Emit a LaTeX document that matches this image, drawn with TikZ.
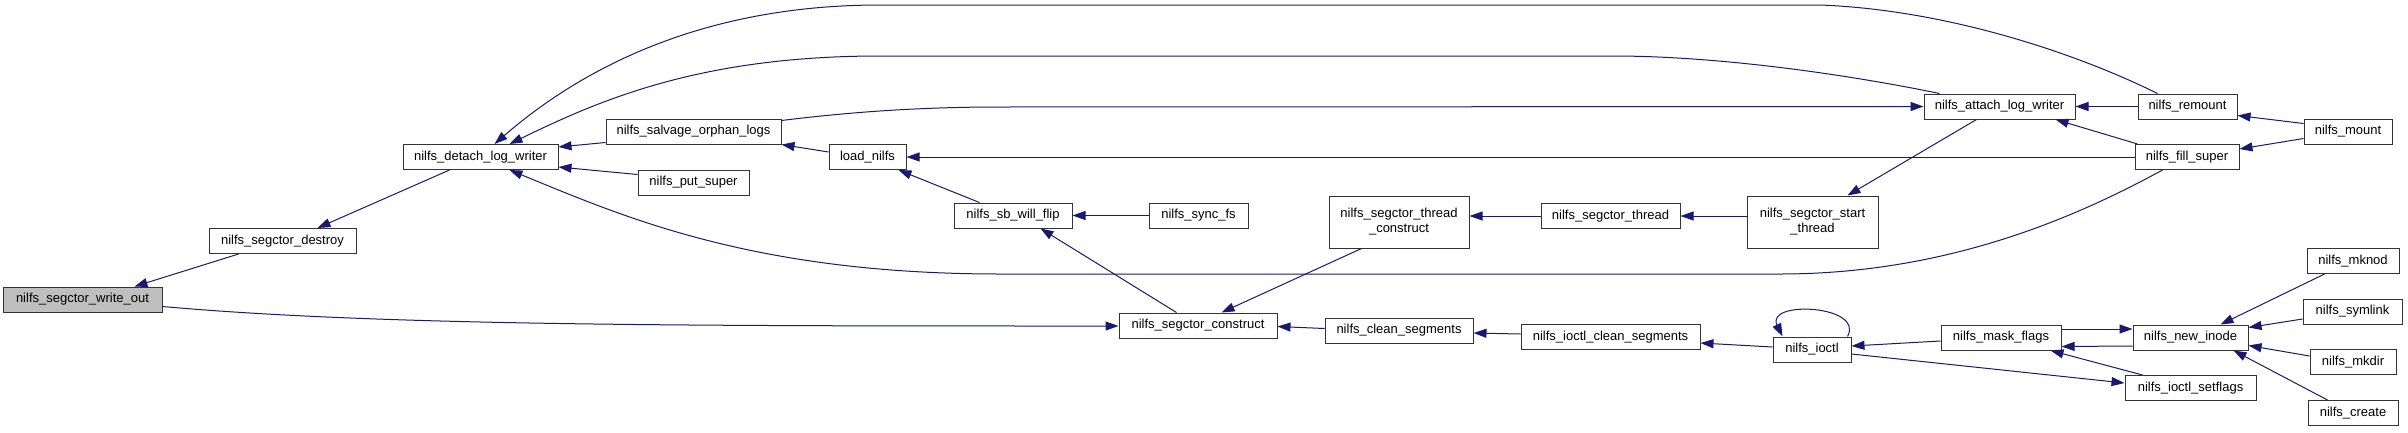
\documentclass[tikz,border=0pt]{standalone}
\usepackage{fontspec}
\setmainfont{Liberation Sans}
\usetikzlibrary{arrows.meta}
\definecolor{edgeblue}{RGB}{25,25,112}
\definecolor{focusgray}{RGB}{191,191,191}
\begin{document}
\begin{tikzpicture}[x=1pt,y=-1pt,
  box/.style={draw=black!80,line width=1pt,fill=white,inner sep=0pt,minimum height=25pt,
    font=\fontsize{13}{15}\selectfont,align=center,text=black},
  tall/.style={minimum height=52pt},
  edge/.style={draw=edgeblue,line width=1pt,-{Triangle[length=13pt,width=9pt]}},
]
\fill[white] (0,0) rectangle (2408,432);
\useasboundingbox (0,0) rectangle (2408,432);

% nodes
\node[box,fill=focusgray,minimum width=159pt] (wo) at (82.5,299.5) {nilfs\_segctor\_write\_out};
\node[box,minimum width=147pt] (de) at (282.5,241) {nilfs\_segctor\_destroy};
\node[box,minimum width=155pt] (dl) at (480.5,157) {nilfs\_detach\_log\_writer};
\node[box,minimum width=175pt] (so) at (693.5,131.5) {nilfs\_salvage\_orphan\_logs};
\node[box,minimum width=111pt] (ps) at (693.5,182.5) {nilfs\_put\_super};
\node[box,minimum width=77pt] (ln) at (867.5,157) {load\_nilfs};
\node[box,minimum width=118pt] (sb) at (1013,215.5) {nilfs\_sb\_will\_flip};
\node[box,minimum width=99pt] (sf) at (1198.5,215.5) {nilfs\_sync\_fs};
\node[box,tall,minimum width=140pt] (tc) at (1399,222) {nilfs\_segctor\_thread\\\_construct};
\node[box,minimum width=139pt] (st) at (1610.5,216) {nilfs\_segctor\_thread};
\node[box,tall,minimum width=131pt] (ss) at (1812.5,222) {nilfs\_segctor\_start\\\_thread};
\node[box,minimum width=151pt] (al) at (1999.5,106.5) {nilfs\_attach\_log\_writer};
\node[box,minimum width=99pt] (rm) at (2187.5,106.5) {nilfs\_remount};
\node[box,minimum width=88pt] (mt) at (2348,131.5) {nilfs\_mount};
\node[box,minimum width=104pt] (fs) at (2187,157) {nilfs\_fill\_super};
\node[box,minimum width=158pt] (co) at (1198,325.5) {nilfs\_segctor\_construct};
\node[box,minimum width=148pt] (cs) at (1399,330.5) {nilfs\_clean\_segments};
\node[box,minimum width=179pt] (ic) at (1610.5,337) {nilfs\_ioctl\_clean\_segments};
\node[box,minimum width=78pt] (io) at (1812,349.5) {nilfs\_ioctl};
\node[box,minimum width=120pt] (mf) at (2001,337.5) {nilfs\_mask\_flags};
\node[box,minimum width=115pt] (ni) at (2190.5,337.5) {nilfs\_new\_inode};
\node[box,minimum width=131pt] (sx) at (2190.5,388) {nilfs\_ioctl\_setflags};
\node[box,minimum width=92pt] (mk) at (2353,261) {nilfs\_mknod};
\node[box,minimum width=99pt] (sy) at (2352.5,311.5) {nilfs\_symlink};
\node[box,minimum width=86pt] (md) at (2353,362) {nilfs\_mkdir};
\node[box,minimum width=90pt] (cr) at (2353,413) {nilfs\_create};

% edges
\draw[edge] ([xshift=30pt]de.south west) -- ([xshift=132pt]wo.north west);
\draw[edge] ([yshift=-7pt]wo.east) .. controls (380,326) and (700,326) .. ([yshift=-0.5pt]co.west);
\draw[edge] ([xshift=47pt]dl.south west) -- ([xshift=109pt]de.north west);
\draw[edge] ([yshift=2pt]so.south west) -- ([yshift=-3pt]dl.north east);
\draw[edge] ([yshift=-5pt]ps.north west) -- ([yshift=3pt]dl.south east);
\draw[edge] ([xshift=20pt]rm.north west) .. controls (2080,55) and (1950,10) .. (1820,5)
  -- (880,5) .. controls (700,5) and (580,70) .. ([xshift=92pt]dl.north west);
\draw[edge] ([xshift=16pt]al.north west) .. controls (1850,75) and (1720,56) .. (1613,56)
  -- (880,56) .. controls (700,56) and (600,100) .. ([xshift=107pt]dl.north west);
\draw[edge] ([xshift=28pt]fs.south west) .. controls (2080,215) and (1950,274) .. (1780,274)
  -- (1000,274) .. controls (750,274) and (620,215) .. ([xshift=107pt]dl.south west);
\draw[edge] ([yshift=-8pt]ln.north west) -- (so.south east);
\draw[edge] ([yshift=-2pt]so.north east) .. controls (850,112) and (920,107) .. (1000,107) -- (al.west);
\draw[edge] (fs.west) -- (ln.east);
\draw[edge] ([xshift=26pt]sb.north west) -- ([xshift=-8pt]ln.south east);
\draw[edge] (sf.west) -- (sb.east);
\draw[edge] ([xshift=58pt]co.north west) -- ([xshift=-32pt]sb.south east);
\draw[edge] ([xshift=33pt]tc.south west) -- ([xshift=103pt]co.north west);
\draw[edge] (st.west) -- (st.west -| tc.east);
\draw[edge] (ss.west |- st.east) -- (st.east);
\draw[edge] ([xshift=53pt]al.south west) -- ([xshift=-31pt]ss.north east);
\draw[edge] (rm.west) -- (al.east);
\draw[edge] ([xshift=3pt]fs.north west) -- ([xshift=-20pt]al.south east);
\draw[edge] ([yshift=-5pt]mt.north west) -- ([yshift=4pt]rm.south east);
\draw[edge] ([yshift=6pt]mt.south west) -- ([yshift=-5pt]fs.north east);
\draw[edge] ([yshift=2pt]cs.west) -- ([yshift=-1pt]co.east);
\draw[edge] ([yshift=3pt]ic.west) -- ([yshift=-2.5pt]cs.east);
\draw[edge] ([yshift=2.5pt]io.west) -- ([yshift=-6pt]ic.east);
\draw[edge] ([xshift=-4pt]io.north east) .. controls (1865,305) and (1765,300) .. ([xshift=10pt]io.north west);
\draw[edge] ([yshift=-3.5pt]mf.west) -- ([yshift=3.5pt]io.east);
\draw[edge] ([yshift=-4.5pt]io.east) -- ([yshift=5pt]sx.west);
\draw[edge] ([yshift=8.5pt]mf.east) -- ([yshift=8.5pt]ni.west);
\draw[edge] ([yshift=-8.5pt]ni.west) -- ([yshift=-9pt]mf.east);
\draw[edge] ([xshift=18pt]sx.north west) -- ([xshift=-11pt]mf.south east);
\draw[edge] ([xshift=18pt]mk.south west) -- ([xshift=-28pt]ni.north east);
\draw[edge] ([yshift=-7.5pt]sy.west) -- ([yshift=10pt]ni.east);
\draw[edge] ([yshift=6pt]md.west) -- ([yshift=-8pt]ni.east);
\draw[edge] ([xshift=20pt]cr.north west) -- ([xshift=-15pt]ni.south east);
\end{tikzpicture}
\end{document}
